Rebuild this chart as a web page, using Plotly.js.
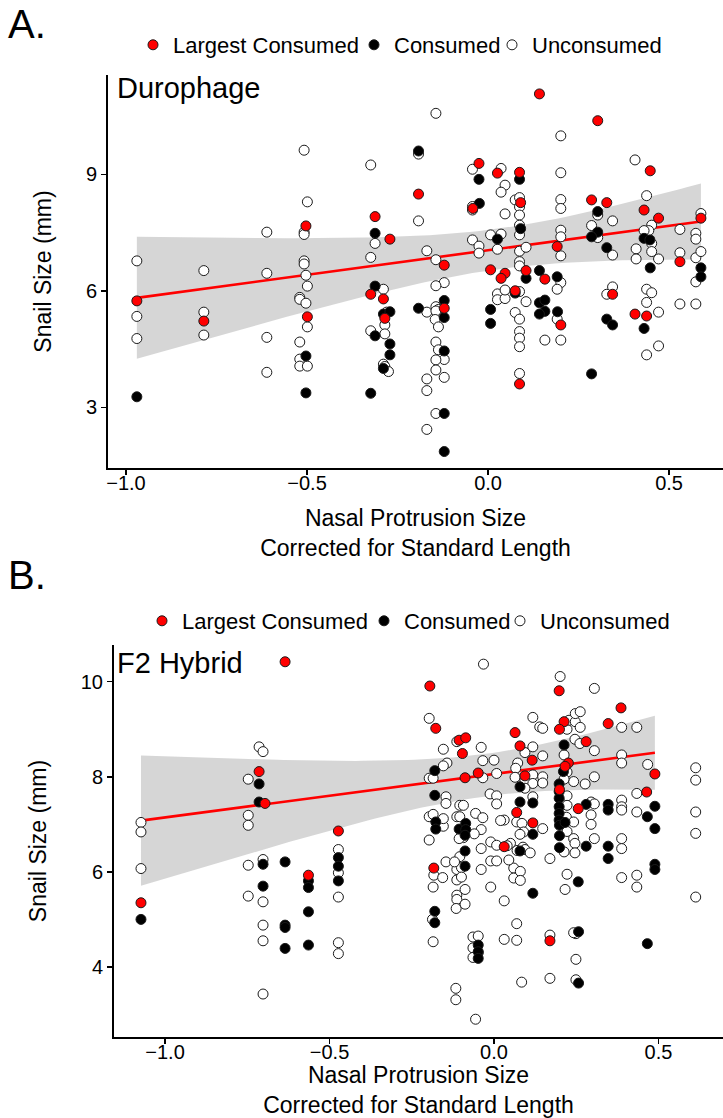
<!DOCTYPE html>
<html><head><meta charset="utf-8">
<script src="https://cdn.plot.ly/plotly-3.0.1.min.js"></script>
<style>html,body{margin:0;padding:0;background:#fff}#chart{width:723px;height:1118px}</style>
</head><body><div id="chart"></div>
<script>
// ---------- Panel A: Durophage ----------
const aLargestX = [-0.970,-0.785,-0.503,-0.499,-0.312,-0.271,-0.324,-0.289,-0.285,-0.192,-0.121,-0.121,-0.025,-0.042,0.007,0.026,0.047,0.036,0.087,0.090,0.105,0.075,0.087,0.142,0.157,0.191,0.201,0.286,0.303,0.328,0.344,0.406,0.438,0.431,0.448,0.471,0.530,0.588];
const aLargestY = [5.74,5.22,7.67,5.33,7.91,7.33,5.91,5.79,5.29,8.49,6.66,5.55,9.28,8.12,6.54,9.03,6.45,6.32,9.05,8.27,6.52,6.00,3.60,11.07,6.30,7.14,5.12,8.34,10.38,8.27,5.91,5.40,5.35,8.08,9.09,7.87,6.75,7.87];

const aConsumedX = [-0.970,-0.503,-0.503,-0.312,-0.312,-0.289,-0.271,-0.312,-0.271,-0.271,-0.289,-0.324,-0.192,-0.192,-0.121,-0.121,-0.121,-0.121,-0.121,-0.025,-0.024,0.007,0.007,0.026,0.087,0.090,0.105,0.075,0.142,0.191,0.142,0.157,0.157,0.142,0.192,0.286,0.303,0.303,0.286,0.328,0.328,0.344,0.431,0.447,0.448,0.431,0.588,0.588];
const aConsumedY = [3.27,4.32,3.37,7.48,6.12,5.40,5.46,4.84,4.63,4.35,4.00,3.36,9.60,5.55,5.75,5.31,4.45,2.84,1.86,8.87,8.25,5.52,5.16,7.33,8.87,7.60,6.32,5.94,6.52,6.36,5.69,5.76,5.47,5.40,5.46,3.86,8.04,7.51,7.39,7.11,5.27,5.12,7.35,7.31,6.59,5.03,6.59,6.36];

const aUnconsumedX = [
 -0.970,-0.970,-0.970,
 -0.785,-0.785,-0.785,
 -0.611,-0.611,-0.611,-0.611,
 -0.508,-0.499,-0.508,-0.508,-0.508,-0.508,-0.503,-0.499,-0.520,-0.520,-0.503,-0.499,-0.520,-0.520,-0.520,-0.499,
 -0.324,-0.312,-0.324,-0.289,-0.280,-0.285,-0.324,-0.285,-0.289,-0.285,-0.275,
 -0.192,-0.192,-0.169,-0.169,-0.169,-0.169,-0.169,
 -0.144,-0.144,-0.121,-0.144,-0.144,-0.137,-0.144,-0.146,-0.137,-0.144,-0.137,-0.121,-0.144,-0.144,-0.121,-0.144,
 -0.043,-0.043,-0.043,-0.043,-0.025,-0.025,
 0.036,0.047,0.036,0.047,0.007,0.036,0.026,0.026,0.026,0.047,0.047,
 0.075,0.087,0.087,0.087,0.087,0.087,0.087,0.105,0.087,0.087,0.087,0.105,0.075,0.087,0.087,0.087,0.087,0.087,
 0.157,
 0.201,0.201,0.201,0.201,0.201,0.201,0.201,0.201,0.191,0.191,0.201,
 0.303,0.344,0.286,0.303,0.344,0.344,0.328,
 0.406,0.438,0.452,0.444,0.431,0.452,0.452,0.471,0.409,0.409,0.438,0.452,0.438,0.471,0.471,0.438,
 0.588,0.530,0.574,0.574,0.574,0.588,0.530,0.574,0.530,0.574];
const aUnconsumedY = [
 6.77,5.34,4.77,
 6.52,5.45,4.86,
 7.51,6.45,4.80,3.90,
 9.62,8.29,7.51,7.45,6.77,6.69,6.40,6.12,5.83,5.78,5.68,5.07,4.68,4.24,4.06,4.06,
 9.24,7.22,6.86,6.04,5.45,5.12,4.97,4.89,4.11,4.05,3.92,
 9.52,7.80,7.03,5.45,3.73,3.43,2.43,
 10.57,6.80,6.21,6.13,5.59,5.52,5.48,5.26,5.07,4.68,4.48,4.23,4.22,3.96,3.77,2.84,
 9.13,8.17,8.08,7.31,7.15,6.97,
 9.15,8.72,8.54,7.98,7.44,7.46,7.07,5.92,5.77,5.80,6.02,
 8.34,8.40,8.16,7.95,7.69,7.44,7.02,7.12,6.75,6.64,5.98,5.72,5.44,5.27,4.95,4.78,4.56,3.87,
 4.73,
 9.99,9.04,8.35,8.12,7.56,7.39,6.90,6.21,6.04,5.27,4.73,
 7.95,7.80,7.68,7.37,6.92,6.10,5.91,
 9.37,8.45,7.69,7.55,7.55,7.22,7.01,6.82,7.08,6.82,6.04,5.95,5.70,5.45,4.58,4.35,
 7.99,7.58,7.48,7.33,6.85,7.01,6.98,6.23,5.66,5.66];

// ---------- Panel B: F2 Hybrid ----------
const bLargestX = [-1.073,-0.714,-0.696,-0.635,-0.564,-0.473,-0.195,-0.177,-0.183,-0.106,-0.086,-0.096,-0.088,-0.048,0.031,0.064,0.079,0.116,0.094,0.069,0.118,0.170,0.198,0.213,0.199,0.226,0.216,0.199,0.256,0.280,0.347,0.386,0.464,0.489];
const bLargestY = [5.35,8.11,7.44,10.42,5.93,6.86,9.91,9.02,6.08,8.77,8.82,8.49,7.98,8.08,6.53,8.93,8.65,8.35,8.02,7.25,7.03,4.55,9.81,9.16,9.00,8.29,8.22,7.73,7.33,8.74,9.12,9.45,7.68,8.06];

const bConsumedX = [-1.073,-0.714,-0.714,-0.702,-0.702,-0.635,-0.635,-0.635,-0.635,-0.564,-0.564,-0.564,-0.564,-0.473,-0.473,-0.473,-0.180,-0.180,-0.177,-0.177,-0.180,-0.180,-0.106,-0.086,-0.086,-0.088,-0.088,-0.088,-0.048,-0.048,-0.048,0.079,0.079,0.118,0.118,0.079,0.118,0.213,0.211,0.198,0.198,0.198,0.198,0.198,0.198,0.199,0.216,0.199,0.199,0.256,0.257,0.257,0.280,0.280,0.347,0.347,0.347,0.347,0.466,0.489,0.489,0.489,0.489,0.466];
const bConsumedY = [5.00,7.85,7.47,6.16,5.70,6.21,4.88,4.83,4.39,5.81,5.67,5.16,4.46,6.30,6.12,5.81,8.13,7.61,7.05,6.90,5.17,4.93,6.90,7.02,6.89,6.77,6.44,6.12,4.46,4.32,4.18,7.79,7.47,7.45,6.79,6.44,5.55,8.67,8.11,7.85,7.69,7.55,7.37,7.23,7.09,6.98,7.04,6.76,6.51,5.79,4.74,3.66,7.42,6.54,7.42,7.30,6.54,6.28,7.16,7.38,6.91,6.16,6.05,4.49];

const bUnconsumedX = [
 -1.073,-1.073,-1.073,
 -0.747,-0.747,-0.747,-0.747,-0.747,
 -0.714,-0.702,-0.702,-0.702,-0.702,-0.702,-0.702,
 -0.473,-0.473,-0.473,-0.473,-0.473,
 -0.197,-0.197,-0.185,-0.197,-0.185,-0.197,-0.183,-0.185,-0.187,-0.185,
 -0.154,-0.143,-0.154,-0.146,-0.146,-0.154,-0.146,-0.156,-0.154,
 -0.113,-0.104,-0.093,-0.113,-0.104,-0.097,-0.093,-0.104,-0.113,-0.099,-0.113,-0.099,-0.088,-0.113,-0.113,-0.115,-0.088,-0.116,-0.116,-0.106,-0.120,
 -0.032,-0.039,-0.034,-0.034,-0.056,-0.034,-0.039,-0.039,-0.039,-0.064,-0.048,-0.064,-0.048,-0.064,-0.056,-0.060,
 0.008,-0.012,0.008,0.008,-0.010,0.008,-0.010,0.008,-0.010,0.031,0.031,0.031,0.000,0.020,
 0.118,0.139,0.094,0.118,0.072,0.066,0.064,0.094,0.118,0.118,0.094,0.118,0.069,0.085,0.090,0.079,0.050,0.070,0.088,0.094,0.040,0.060,0.060,0.080,0.080,0.069,0.069,0.084,0.045,0.110,
 0.148,0.148,0.148,0.148,0.148,0.170,0.170,0.170,
 0.201,0.222,0.228,0.247,0.247,0.262,0.262,0.246,0.261,0.213,0.222,0.242,0.213,0.222,0.222,0.220,0.242,0.222,0.242,0.246,0.213,0.246,0.216,0.222,0.249,0.249,0.242,0.249,
 0.305,0.305,0.277,0.305,0.295,0.305,0.295,0.295,0.305,
 0.388,0.434,0.388,0.388,0.467,0.388,0.388,0.388,0.434,0.434,0.388,0.388,0.388,0.434,0.434,
 0.613,0.613,0.613,0.613,0.613];
const bUnconsumedY = [
 7.04,6.84,6.07,
 7.95,7.19,6.98,6.14,5.49,
 8.63,8.53,6.26,5.37,4.88,4.55,3.43,
 6.47,5.98,5.47,4.51,4.28,
 9.23,7.97,7.97,7.16,7.21,6.67,5.93,5.68,5.00,4.53,
 8.58,8.29,8.23,7.58,7.44,6.96,6.21,5.88,7.12,
 8.74,7.40,7.40,7.16,7.16,6.88,6.72,6.32,6.05,6.09,5.83,5.89,5.63,5.51,5.42,5.23,5.32,3.55,3.31,6.70,6.21,
 10.37,8.62,8.34,7.98,7.23,7.14,6.89,6.49,6.05,4.63,4.65,4.40,4.30,4.20,2.90,6.80,
 8.07,7.64,7.60,7.43,6.63,6.56,6.23,6.23,5.68,7.09,5.39,4.58,8.35,7.08,
 9.25,9.05,8.51,8.63,8.29,8.18,7.99,7.93,8.04,7.86,7.76,7.58,7.05,7.02,6.84,6.79,6.60,6.45,6.52,6.47,6.55,6.08,5.87,6.01,5.82,4.91,4.56,3.68,6.25,6.40,
 9.02,8.44,8.00,7.87,6.91,6.28,4.67,3.76,
 10.11,9.00,9.19,9.16,9.33,9.37,9.04,8.79,8.70,8.46,8.10,7.90,7.95,7.60,7.40,7.15,7.05,6.85,6.70,6.60,6.42,6.40,5.63,5.95,4.16,4.70,4.72,3.73,
 9.86,8.55,7.85,8.00,7.47,7.43,7.20,7.00,6.70,
 9.04,9.04,8.46,8.29,8.26,7.51,7.37,7.30,7.65,7.26,6.70,6.49,5.88,5.93,5.68,
 8.19,7.93,7.26,6.81,5.47];

const groupNames = ["Largest Consumed","Consumed","Unconsumed"];
const groupFill = ["#FF0000","#000000","#FFFFFF"];

// linear model fit with 95% confidence band (as geom_smooth(method="lm"))
function lmFit(xs, ys){
  const n = xs.length;
  const mx = xs.reduce((a,b)=>a+b,0)/n, my = ys.reduce((a,b)=>a+b,0)/n;
  let sxx=0, sxy=0;
  for(let i=0;i<n;i++){ sxx += (xs[i]-mx)**2; sxy += (xs[i]-mx)*(ys[i]-my); }
  const b = sxy/sxx, a = my - b*mx;
  let sse=0; for(let i=0;i<n;i++){ sse += (ys[i]-a-b*xs[i])**2; }
  const s = Math.sqrt(sse/(n-2));
  const df=n-2, z=1.959964;
  const t = z + (z**3+z)/(4*df) + (5*z**5+16*z**3+3*z)/(96*df*df);
  const lo=Math.min(...xs), hi=Math.max(...xs);
  const gx=[], gy=[], gl=[], gu=[];
  for(let k=0;k<80;k++){
    const x = lo + (hi-lo)*k/79;
    const yh = a + b*x;
    const se = s*Math.sqrt(1/n + (x-mx)**2/sxx);
    gx.push(x); gy.push(yh); gl.push(yh - t*se); gu.push(yh + t*se);
  }
  return {gx, gy, gl, gu};
}

function panelTraces(xa, ya, legendNames, groups){
  const f = lmFit(groups[0][0], groups[0][1]);
  const tr = [];
  tr.push({x:f.gx, y:f.gl, xaxis:xa, yaxis:ya, mode:'lines', line:{width:0}, showlegend:false, hoverinfo:'skip'});
  tr.push({x:f.gx, y:f.gu, xaxis:xa, yaxis:ya, mode:'lines', line:{width:0}, fill:'tonexty', fillcolor:'rgba(153,153,153,0.4)', showlegend:false, hoverinfo:'skip'});
  tr.push({x:f.gx, y:f.gy, xaxis:xa, yaxis:ya, mode:'lines', line:{color:'#FF0000', width:2.6}, showlegend:false, hoverinfo:'skip'});
  // draw unconsumed first, largest consumed on top
  for(const gi of [2,1,0]){
    tr.push({x:groups[gi][0], y:groups[gi][1], xaxis:xa, yaxis:ya, type:'scatter', mode:'markers',
      name:groupNames[gi], legend:legendNames[gi],
      marker:{size:10, color:groupFill[gi], line:{color:'#1a1a1a', width:1}}});
  }
  return tr;
}

const data = [
  ...panelTraces('x','y',['legend','legend2','legend3'],[[aLargestX,aLargestY],[aConsumedX,aConsumedY],[aUnconsumedX,aUnconsumedY]]),
  ...panelTraces('x2','y2',['legend4','legend5','legend6'],[[bLargestX,bLargestY],[bConsumedX,bConsumedY],[bUnconsumedX,bUnconsumedY]])
];

const W=723, H=1118;
const px = v => v/W, py = v => 1 - v/H;
const FONT = 'Liberation Sans, Arial, Helvetica, sans-serif';

const axisBase = {showgrid:false, zeroline:false, showline:true, linecolor:'#000', linewidth:2,
  ticks:'outside', ticklen:5, tickwidth:1.5, tickcolor:'#000',
  tickfont:{family:FONT, size:20, color:'#000'}, fixedrange:true};

const xTitle = 'Nasal Protrusion Size<br>Corrected for Standard Length';

function leg(dotX, rowY){
  return {orientation:'h', x:px(dotX-20), xanchor:'left', y:py(rowY), yanchor:'middle',
    font:{family:FONT,size:22,color:'#000'}, bgcolor:'rgba(0,0,0,0)', borderwidth:0};
}

const layout = {
  width:W, height:H, margin:{l:0,r:0,t:0,b:0}, paper_bgcolor:'#fff', plot_bgcolor:'#fff',
  font:{family:FONT, color:'#000'}, hovermode:false,
  xaxis: Object.assign({}, axisBase, {domain:[px(108),1], range:[-1.0497,0.649], anchor:'y',
    tickvals:[-1,-0.5,0,0.5], tickformat:'.1f', ticklabelstandoff:-9,
    title:{text:xTitle, font:{family:FONT,size:23,color:'#000'}, standoff:17}}),
  yaxis: Object.assign({}, axisBase, {domain:[py(468),py(75)], range:[1.436,11.557], anchor:'x',
    tickvals:[3,6,9],
    title:{text:'Snail Size (mm)', font:{family:FONT,size:23,color:'#000'}, standoff:28}}),
  xaxis2: Object.assign({}, axisBase, {domain:[px(114),1], range:[-1.155,0.696], anchor:'y2',
    tickvals:[-1,-0.5,0,0.5], tickformat:'.1f', ticklabelstandoff:-9,
    title:{text:xTitle, font:{family:FONT,size:23,color:'#000'}, standoff:24}}),
  yaxis2: Object.assign({}, axisBase, {domain:[py(1037),py(645)], range:[2.526,10.773], anchor:'x2',
    tickvals:[4,6,8,10],
    title:{text:'Snail Size (mm)', font:{family:FONT,size:23,color:'#000'}, standoff:28}}),
  legend: leg(153,45), legend2: leg(374,45), legend3: leg(512,45),
  legend4: leg(162,621), legend5: leg(384,621), legend6: leg(520,621),
  annotations:[
    {text:'A.', xref:'paper', yref:'paper', x:px(6), y:py(24), xanchor:'left', yanchor:'middle', showarrow:false, font:{family:FONT,size:40,color:'#000'}},
    {text:'B.', xref:'paper', yref:'paper', x:px(6), y:py(575), xanchor:'left', yanchor:'middle', showarrow:false, font:{family:FONT,size:40,color:'#000'}},
    {text:'Durophage', xref:'paper', yref:'paper', x:px(115), y:py(88), xanchor:'left', yanchor:'middle', showarrow:false, font:{family:FONT,size:29,color:'#000'}},
    {text:'F2 Hybrid', xref:'paper', yref:'paper', x:px(115), y:py(663), xanchor:'left', yanchor:'middle', showarrow:false, font:{family:FONT,size:29,color:'#000'}}
  ]
};

Plotly.newPlot('chart', data, layout, {staticPlot:true, displayModeBar:false});
</script></body></html>
